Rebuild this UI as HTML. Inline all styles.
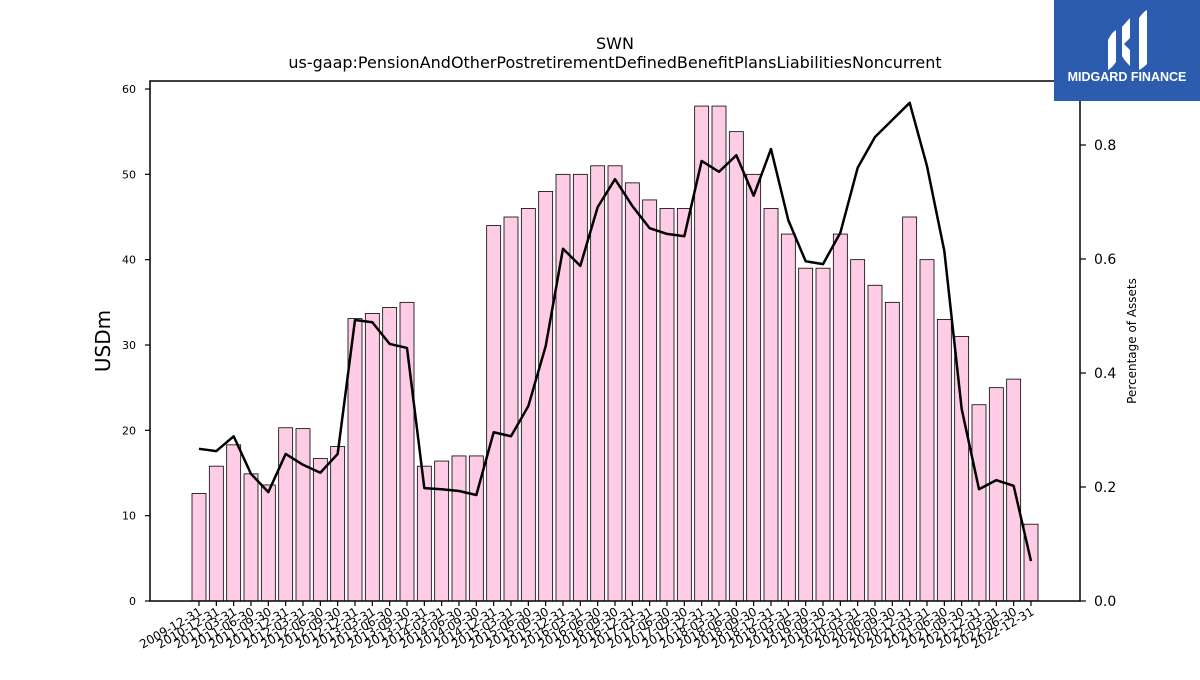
<!DOCTYPE html>
<html><head><meta charset="utf-8"><style>
body{margin:0;background:#fff;font-family:"Liberation Sans","DejaVu Sans",sans-serif;}
svg text{font-family:"DejaVu Sans","Liberation Sans",sans-serif;}
</style></head><body>
<svg id="c" width="1200" height="675" viewBox="0 0 1200 675" xmlns="http://www.w3.org/2000/svg">
<text x="615" y="49" font-size="16" text-anchor="middle">SWN</text>
<text x="615" y="68" font-size="16" text-anchor="middle">us-gaap:PensionAndOtherPostretirementDefinedBenefitPlansLiabilitiesNoncurrent</text>
<g id="bars"></g>
<g id="line"></g>
<rect x="150" y="81" width="930" height="520" fill="none" stroke="#000" stroke-width="1.5"/>
<g id="axes"></g>
<text transform="translate(110,341) rotate(-90)" font-size="20" text-anchor="middle">USDm</text>
<text transform="translate(1136,341) rotate(-90)" font-size="12" text-anchor="middle">Percentage of Assets</text>
<g>
<rect x="1054" y="0" width="146" height="101" fill="#2b5cae"/>
<path d="M1108 40 Q1112 32 1116 30 L1116 62 Q1112 68 1108 70 Z" fill="#fff"/>
<path d="M1122 27 Q1128 20 1130 18 L1130 38 L1124 44 L1130 50 L1130 66 Q1124 60 1122 56 Z" fill="#fff"/>
<path d="M1139 18 Q1143 12 1147 10 L1147 64 Q1143 68 1139 70 Z" fill="#fff"/>
<text x="1127" y="81" font-size="12.5" font-weight="bold" fill="#fff" text-anchor="middle" style="font-family:'Liberation Sans',sans-serif">MIDGARD FINANCE</text>
</g>
</svg>
<script>
const categories=["2009-12-31","2010-12-31","2011-03-31","2011-06-30","2011-09-30","2011-12-31","2012-03-31","2012-06-30","2012-09-30","2012-12-31","2013-03-31","2013-06-30","2013-09-30","2013-12-31","2014-03-31","2014-06-30","2014-09-30","2014-12-31","2015-03-31","2015-06-30","2015-09-30","2015-12-31","2016-03-31","2016-06-30","2016-09-30","2016-12-31","2017-03-31","2017-06-30","2017-09-30","2017-12-31","2018-03-31","2018-06-30","2018-09-30","2018-12-31","2019-03-31","2019-06-30","2019-09-30","2019-12-31","2020-03-31","2020-06-30","2020-09-30","2020-12-31","2021-03-31","2021-06-30","2021-09-30","2021-12-31","2022-03-31","2022-06-30","2022-12-31"];
const barValues=[12.6,15.8,18.3,14.9,13.6,20.3,20.2,16.7,18.1,33.1,33.7,34.4,35,15.8,16.4,17,17,44,45,46,48,50,50,51,51,49,47,46,46,58,58,55,50,46,43,39,39,43,40,37,35,45,40,33,31,23,25,26,9];
const pctValues=[0.267,0.263,0.289,0.223,0.191,0.258,0.239,0.225,0.258,0.493,0.489,0.451,0.444,0.198,0.196,0.193,0.186,0.296,0.289,0.342,0.447,0.618,0.588,0.691,0.74,0.693,0.654,0.644,0.64,0.772,0.753,0.782,0.711,0.793,0.668,0.596,0.591,0.646,0.76,0.814,0.844,0.874,0.763,0.614,0.337,0.196,0.212,0.202,0.07];
const leftTicks=[0,10,20,30,40,50,60];
const rightTicks=[0,0.2,0.4,0.6,0.8];
const NS="http://www.w3.org/2000/svg";
const x=i=>199+i*(1031-199)/(categories.length-1);
const yL=v=>601-v*(601-89)/60;
const yR=v=>601-v*(601-145)/0.8;
const bw=14;
function mk(t,a,p){const e=document.createElementNS(NS,t);for(const k in a)e.setAttribute(k,a[k]);p.appendChild(e);return e;}
const bars=document.getElementById('bars'),axes=document.getElementById('axes'),line=document.getElementById('line');
barValues.forEach((v,i)=>{
 const r=mk('rect',{x:x(i)-bw/2,y:yL(v),width:bw,height:601-yL(v),fill:'#ffcce6',stroke:'#000','stroke-width':0.8},bars);
 
 
 const t=mk('line',{x1:x(i),x2:x(i),y1:601,y2:606,stroke:'#000','stroke-width':1.2},axes);
 
 
 const lb=mk('text',{x:x(i)+4,y:614,'font-size':12,'text-anchor':'end',transform:`rotate(-30 ${x(i)+4} 614)`},axes);
 lb.textContent=categories[i];
 
 
});
const pl=mk('polyline',{points:pctValues.map((v,i)=>x(i)+','+yR(v)).join(' '),fill:'none',stroke:'#000','stroke-width':2.5,'stroke-linejoin':'round'},line);


leftTicks.forEach(v=>{
 const t=mk('line',{x1:145,x2:150,y1:yL(v),y2:yL(v),stroke:'#000','stroke-width':1.2},axes);
 
 
 const l=mk('text',{x:136,y:yL(v)+4,'font-size':11,'text-anchor':'end'},axes);
 l.textContent=v;
 
 
});
rightTicks.forEach(v=>{
 const t=mk('line',{x1:1080,x2:1086,y1:yR(v),y2:yR(v),stroke:'#000','stroke-width':1.2},axes);
 
 
 const l=mk('text',{x:1094,y:yR(v)+5,'font-size':14},axes);
 l.textContent=v.toFixed(1);
 
 
});
</script>
</body></html>
